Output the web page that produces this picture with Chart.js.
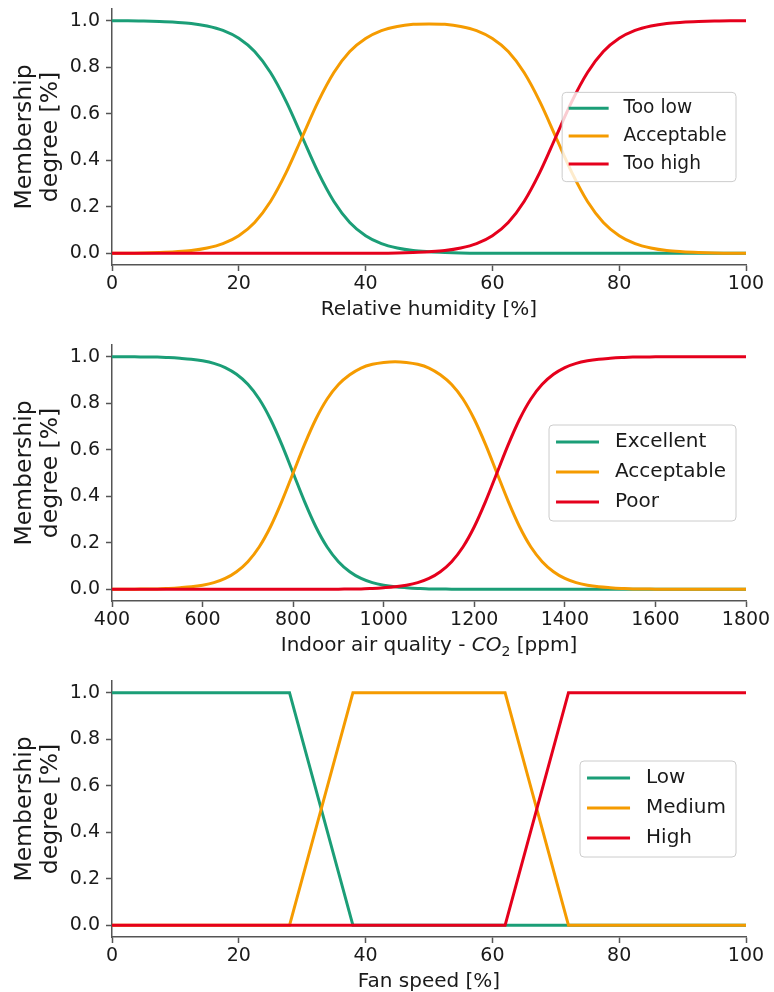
<!DOCTYPE html>
<html>
<head>
<meta charset="utf-8">
<script src="https://cdn.jsdelivr.net/npm/chart.js@4.4.0/dist/chart.umd.min.js"></script>
<style>
html, body { margin: 0; padding: 0; width: 774px; height: 992px; overflow: hidden; background: #fff; }
canvas { position: absolute; left: 0; }
</style>
</head>
<body>
<canvas id="rhChart" width="774" height="330" style="top:0px"></canvas>
<canvas id="co2Chart" width="774" height="330" style="top:336px"></canvas>
<canvas id="fanChart" width="774" height="330" style="top:672px"></canvas>
<script>

// membership functions

// relative humidity
const rhX = [0, 2.5, 5, 7.5, 10, 12.5, 15, 17.5, 20, 22.5, 25, 27.5, 30, 32.5, 35, 37.5, 40, 42.5, 45, 47.5, 50,
             52.5, 55, 57.5, 60, 62.5, 65, 67.5, 70, 72.5, 75, 77.5, 80, 82.5, 85, 87.5, 90, 92.5, 95, 97.5, 100];
const rhTooLow = [0.999, 0.999, 0.998, 0.996, 0.993, 0.988, 0.977, 0.958, 0.924, 0.867, 0.777, 0.651, 0.5, 0.349, 0.223, 0.133, 0.076, 0.042, 0.023, 0.012, 0.007,
                  0.004, 0.002, 0.001, 0.001, 0, 0, 0, 0, 0, 0, 0, 0, 0, 0, 0, 0, 0, 0, 0, 0];
const rhAcceptable = [0.001, 0.001, 0.002, 0.004, 0.007, 0.012, 0.023, 0.042, 0.076, 0.133, 0.223, 0.349, 0.5, 0.651, 0.777, 0.867, 0.923, 0.957, 0.975, 0.984, 0.986,
                      0.984, 0.975, 0.957, 0.923, 0.867, 0.777, 0.651, 0.5, 0.349, 0.223, 0.133, 0.076, 0.042, 0.023, 0.012, 0.007, 0.004, 0.002, 0.001, 0.001];
const rhTooHigh = [0, 0, 0, 0, 0, 0, 0, 0, 0, 0, 0, 0, 0, 0, 0, 0, 0.001, 0.001, 0.002, 0.004, 0.007,
                   0.012, 0.023, 0.042, 0.076, 0.133, 0.223, 0.349, 0.5, 0.651, 0.777, 0.867, 0.924, 0.958, 0.977, 0.988, 0.993, 0.996, 0.998, 0.999, 0.999];

// indoor air quality CO2
const co2X = [400, 425, 450, 475, 500, 525, 550, 575, 600, 625, 650, 675, 700, 725, 750, 775, 800, 825, 850, 875, 900, 925, 950, 975,
              1000, 1025, 1050, 1075, 1100, 1125, 1150, 1175, 1200, 1225, 1250, 1275, 1300, 1325, 1350, 1375, 1400, 1425, 1450, 1475,
              1500, 1525, 1550, 1575, 1600, 1625, 1650, 1675, 1700, 1725, 1750, 1775, 1800];
const co2Excellent = [1, 0.999, 0.999, 0.998, 0.998, 0.996, 0.993, 0.989, 0.982, 0.971, 0.953, 0.924, 0.881, 0.818, 0.731, 0.622, 0.5, 0.378, 0.269, 0.182, 0.119, 0.076, 0.047, 0.029,
                      0.018, 0.011, 0.007, 0.004, 0.002, 0.002, 0.001, 0.001, 0, 0, 0, 0, 0, 0, 0, 0, 0, 0, 0, 0,
                      0, 0, 0, 0, 0, 0, 0, 0, 0, 0, 0, 0, 0];
const co2Acceptable = [0, 0.001, 0.001, 0.002, 0.002, 0.004, 0.007, 0.011, 0.018, 0.029, 0.047, 0.076, 0.119, 0.182, 0.269, 0.378, 0.5, 0.622, 0.731, 0.818, 0.880, 0.922, 0.951, 0.967,
                       0.975, 0.978, 0.975, 0.967, 0.951, 0.922, 0.880, 0.818, 0.731, 0.622, 0.5, 0.378, 0.269, 0.182, 0.119, 0.076, 0.047, 0.029, 0.018, 0.011,
                       0.007, 0.004, 0.002, 0.002, 0.001, 0.001, 0, 0, 0, 0, 0, 0, 0];
const co2Poor = [0, 0, 0, 0, 0, 0, 0, 0, 0, 0, 0, 0, 0, 0, 0, 0, 0, 0, 0, 0.001, 0.001, 0.002, 0.002, 0.004,
                 0.007, 0.011, 0.018, 0.029, 0.047, 0.076, 0.119, 0.182, 0.269, 0.378, 0.5, 0.622, 0.731, 0.818, 0.881, 0.924, 0.953, 0.971, 0.982, 0.989,
                 0.993, 0.996, 0.998, 0.998, 0.999, 0.999, 1, 1, 1, 1, 1, 1, 1];

// fan speed (trapezoids)
const fanX = [0, 28, 38, 62, 72, 100];
const fanLow = [1, 1, 0, 0, 0, 0];
const fanMedium = [0, 0, 1, 1, 0, 0];
const fanHigh = [0, 0, 0, 0, 1, 1];

// ticks
const yTickValues = [0, 0.2, 0.4, 0.6, 0.8, 1.0];
const yTickLabels = ["0.0", "0.2", "0.4", "0.6", "0.8", "1.0"];
const pctTickValues = [0, 20, 40, 60, 80, 100];
const pctTickLabels = ["0", "20", "40", "60", "80", "100"];
const co2TickValues = [400, 600, 800, 1000, 1200, 1400, 1600, 1800];
const co2TickLabels = ["400", "600", "800", "1000", "1200", "1400", "1600", "1800"];

const colors = ["#1b9e77", "#f59b00", "#e5001c"];
const fontFamily = '"DejaVu Sans", sans-serif';
const textColor = "#1a1a1a";
const spineColor = "#555555";

Chart.defaults.font.family = fontFamily;
Chart.defaults.color = textColor;

// legend box drawn inside the plot, "center right" like matplotlib
const boxLegend = {
    id: "boxLegend",
    afterDatasetsDraw(chart, args, opts) {
        const ctx = chart.ctx;
        const area = chart.chartArea;
        const f = opts.fontSize;
        const sets = chart.data.datasets;
        ctx.save();
        ctx.font = f + "px " + fontFamily;
        let textW = 0;
        sets.forEach((d) => { textW = Math.max(textW, ctx.measureText(d.label).width); });
        const handle = 2.15 * f, padL = 0.35 * f, gap = 0.8 * f, padR = 0.5 * f, row = 1.5 * f;
        const w = padL + handle + gap + textW + padR;
        const h = row * (sets.length - 1) + 1.8 * f;
        const left = area.right - 10 - w;
        const top = (area.top + area.bottom) / 2 - h / 2;
        ctx.beginPath();
        ctx.roundRect(left, top, w, h, 4);
        ctx.fillStyle = "rgba(255,255,255,0.8)";
        ctx.fill();
        ctx.strokeStyle = "#cccccc";
        ctx.lineWidth = 1;
        ctx.stroke();
        sets.forEach((d, i) => {
            const y = top + 0.85 * f + i * row;
            ctx.beginPath();
            ctx.moveTo(left + padL, y);
            ctx.lineTo(left + padL + handle, y);
            ctx.strokeStyle = d.borderColor;
            ctx.lineWidth = 3;
            ctx.stroke();
            ctx.fillStyle = textColor;
            ctx.textAlign = "left";
            ctx.textBaseline = "middle";
            ctx.fillText(d.label, left + padL + handle + gap, y);
        });
        ctx.restore();
    }
};

// x title with an italic CO and subscript 2
const mathTitle = {
    id: "mathTitle",
    afterDraw(chart, args, opts) {
        if (!opts.parts) return;
        const ctx = chart.ctx;
        const area = chart.chartArea;
        const f = opts.fontSize;
        const y = chart.height - 20;
        ctx.save();
        ctx.fillStyle = textColor;
        ctx.textAlign = "left";
        ctx.textBaseline = "middle";
        const fontOf = (p) => (p.italic ? "italic " : "") + (p.sub ? 0.7 * f : f) + "px " + fontFamily;
        let total = 0;
        opts.parts.forEach((p) => { ctx.font = fontOf(p); total += ctx.measureText(p.text).width; });
        let x = (area.left + area.right) / 2 - total / 2;
        opts.parts.forEach((p) => {
            ctx.font = fontOf(p);
            ctx.fillText(p.text, x, p.sub ? y + 0.3 * f : y);
            x += ctx.measureText(p.text).width;
        });
        ctx.restore();
    }
};

const makeSet = (label, xs, ys, color, order, smooth) => ({
    label: label,
    data: xs.map((x, i) => ({ x: x, y: ys[i] })),
    borderColor: color,
    backgroundColor: color,
    borderWidth: 3,
    pointRadius: 0,
    fill: false,
    order: order,
    cubicInterpolationMode: smooth ? "monotone" : "default",
    tension: 0
});

const makePanel = (id, sets, xMin, xMax, xTicks, xLabels, xTitle, legendSize, titleParts) => {
    new Chart(id, {
        type: "line",
        data: { datasets: sets },
        options: {
            responsive: false,
            animation: false,
            events: [],
            layout: { padding: { top: 9, right: 28, left: 0, bottom: 0 } },
            plugins: {
                legend: { display: false },
                tooltip: { enabled: false },
                boxLegend: { fontSize: legendSize },
                mathTitle: { fontSize: 20, parts: titleParts }
            },
            scales: {
                x: {
                    type: "linear",
                    min: xMin,
                    max: xMax,
                    bounds: "data",
                    afterBuildTicks: (s) => { s.ticks = xTicks.map((v) => ({ value: v })); },
                    afterFit: (s) => { s.height = 65; s.paddingLeft = 0; s.paddingRight = 0; },
                    grid: { drawOnChartArea: false, drawTicks: true, tickLength: 6, tickWidth: 1.5, tickColor: spineColor, color: spineColor },
                    border: { display: true, color: spineColor, width: 1.5 },
                    ticks: { autoSkip: false, maxRotation: 0, padding: 2, color: textColor, font: { size: 19 },
                             callback: (v, i) => xLabels[i] },
                    title: { display: !titleParts, text: xTitle, color: textColor, font: { size: 20 }, padding: { bottom: 8 } }
                },
                y: {
                    type: "linear",
                    min: -0.05,
                    max: 1.05,
                    bounds: "data",
                    afterBuildTicks: (s) => { s.ticks = yTickValues.map((v) => ({ value: v })); },
                    afterFit: (s) => { s.width = 112; s.paddingTop = 0; s.paddingBottom = 0; },
                    grid: { drawOnChartArea: false, drawTicks: true, tickLength: 6, tickWidth: 1.5, tickColor: spineColor, color: spineColor },
                    border: { display: true, color: spineColor, width: 1.5 },
                    ticks: { padding: 6, color: textColor, font: { size: 19 },
                             callback: (v, i) => yTickLabels[i] },
                    title: { display: true, text: ["Membership", "degree [%]"], color: textColor,
                             font: { size: 23.5, lineHeight: 1.1 }, padding: { top: 12 } }
                }
            }
        },
        plugins: [boxLegend, mathTitle]
    });
};

makePanel("rhChart", [
    makeSet("Too low", rhX, rhTooLow, colors[0], 3, true),
    makeSet("Acceptable", rhX, rhAcceptable, colors[1], 2, true),
    makeSet("Too high", rhX, rhTooHigh, colors[2], 1, true)
], 0, 100, pctTickValues, pctTickLabels, "Relative humidity [%]", 18.6, null);

makePanel("co2Chart", [
    makeSet("Excellent", co2X, co2Excellent, colors[0], 3, true),
    makeSet("Acceptable", co2X, co2Acceptable, colors[1], 2, true),
    makeSet("Poor", co2X, co2Poor, colors[2], 1, true)
], 400, 1800, co2TickValues, co2TickLabels, "Indoor air quality - CO2 [ppm]", 20, [
    { text: "Indoor air quality - " },
    { text: "CO", italic: true },
    { text: "2", sub: true },
    { text: " [ppm]" }
]);

makePanel("fanChart", [
    makeSet("Low", fanX, fanLow, colors[0], 3, false),
    makeSet("Medium", fanX, fanMedium, colors[1], 2, false),
    makeSet("High", fanX, fanHigh, colors[2], 1, false)
], 0, 100, pctTickValues, pctTickLabels, "Fan speed [%]", 20, null);

</script>
</body>
</html>
